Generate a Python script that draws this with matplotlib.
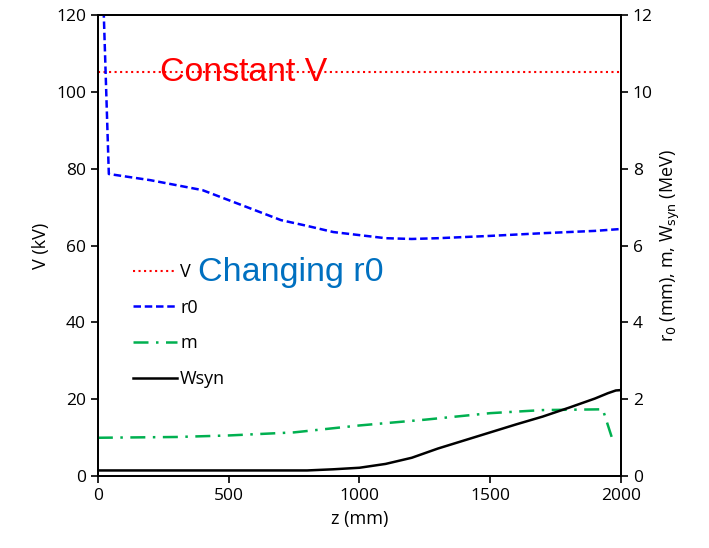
import numpy as np
import matplotlib.pyplot as plt

# dados
z_v = [0, 2000]
v_kv = [105, 105]

z_r0 = [0, 42, 200, 400, 500, 600, 700, 800, 900, 1000, 1100, 1200, 1300, 1500, 1700, 1900, 2000]
r0 = [16.9, 7.86, 7.70, 7.44, 7.18, 6.92, 6.66, 6.51, 6.35, 6.27, 6.19, 6.17, 6.19, 6.25, 6.32, 6.38, 6.43]

z_m = [0, 300, 500, 750, 1000, 1250, 1500, 1700, 1930, 1965, 1990]
m = [1.0, 1.02, 1.06, 1.14, 1.32, 1.47, 1.64, 1.72, 1.74, 1.0, 1.0]

z_w = [0, 800, 900, 1000, 1100, 1200, 1300, 1400, 1500, 1600, 1700, 1800, 1900, 1950, 1980, 2000]
wsyn = [0.15, 0.15, 0.18, 0.22, 0.32, 0.48, 0.72, 0.93, 1.14, 1.35, 1.55, 1.78, 2.02, 2.16, 2.23, 2.24]

plt.rcParams['font.family'] = ['Open Sans', 'DejaVu Sans']

fig = plt.figure(figsize=(7.09, 5.48), dpi=100)
ax = fig.add_axes([0.138, 0.131, 0.738, 0.842])
ax2 = ax.twinx()

l1, = ax.plot(z_v, v_kv, color='red', linestyle=':', linewidth=1.5, label='V')
l2, = ax2.plot(z_r0, r0, color='blue', linestyle=(0, (3, 1.5)), linewidth=1.8, label='r0')
l3, = ax2.plot(z_m, m, color='#00B050', linestyle=(0, (6, 3, 1, 3)), linewidth=1.8, label='m')
l4, = ax2.plot(z_w, wsyn, color='black', linestyle='-', linewidth=1.8, label='Wsyn')

ax.set_xlim(0, 2000)
ax.set_ylim(0, 120)
ax2.set_ylim(0, 12)
ax.set_xticks([0, 500, 1000, 1500, 2000])
ax.set_yticks(np.arange(0, 121, 20))
ax2.set_yticks(np.arange(0, 13, 2))

for a in (ax, ax2):
    a.tick_params(direction='out', length=5, width=1.2, labelsize=12.5)
    for s in a.spines.values():
        s.set_linewidth(1.3)

ax.set_xlabel('z (mm)', fontsize=13)
ax.set_ylabel('V (kV)', fontsize=13)
ax2.set_ylabel(r'r$_\mathrm{0}$ (mm), m, W$_\mathrm{syn}$ (MeV)', fontsize=13)

ax.text(237, 105, 'Constant V', color='red', fontsize=24.3,
        family=['Liberation Sans'], va='center', ha='left')
ax.text(382, 53, 'Changing r0', color='#0070C0', fontsize=24.5,
        family=['Liberation Sans'], va='center', ha='left')

fig.legend(handles=[l1, l2, l3, l4], loc='upper left', bbox_to_anchor=(0.165, 0.55),
           frameon=False, fontsize=13, handlelength=2.45, handletextpad=0.15,
           labelspacing=0.98)

fig.savefig('out.png', dpi=100)
